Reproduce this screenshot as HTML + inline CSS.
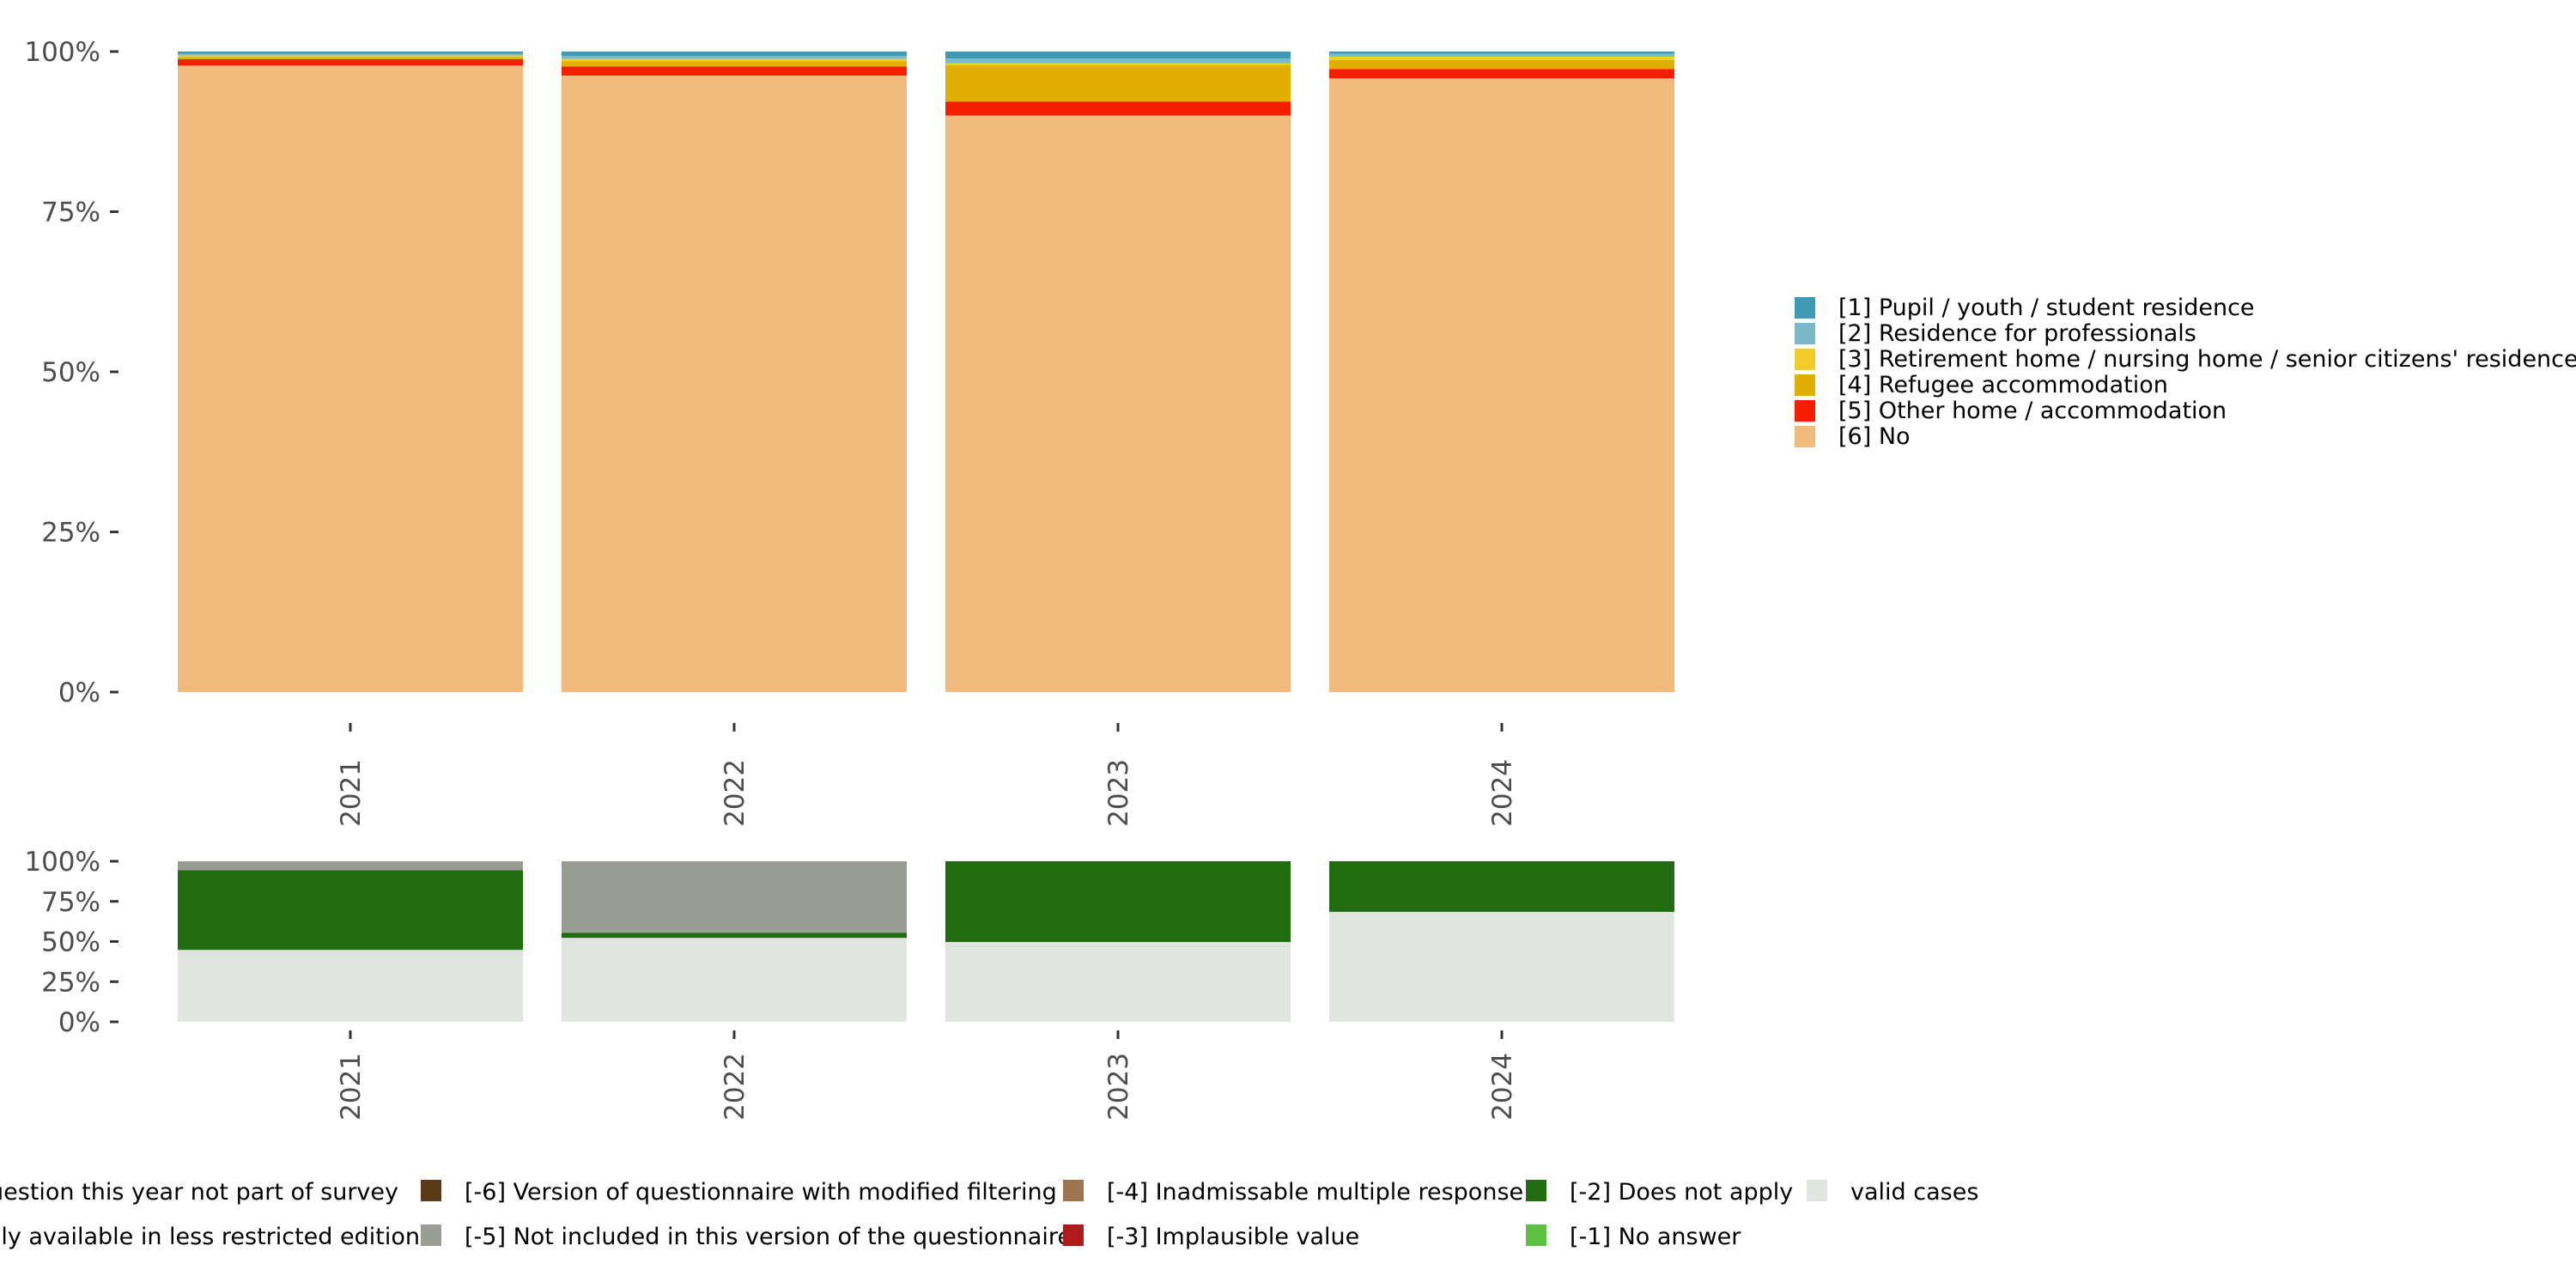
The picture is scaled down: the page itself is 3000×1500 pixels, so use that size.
<!DOCTYPE html>
<html><head><meta charset="utf-8"><style>
html,body{margin:0;padding:0;background:#fff;}
svg{display:block;font-family:"DejaVu Sans","Liberation Sans",sans-serif;}
</style></head><body>
<svg id="chart" width="3000" height="1500" viewBox="0 0 3000 1500"></svg>
<script>
const years = ["2021","2022","2023","2024"];
const topCats = ["[1] Pupil / youth / student residence","[2] Residence for professionals","[3] Retirement home / nursing home / senior citizens' residence","[4] Refugee accommodation","[5] Other home / accommodation","[6] No"];
const topColors = ["#3f9ab4","#7bb8c8","#f0cd2a","#e0af00","#f51f00","#f1bb7d"];
// values per year, order [1]..[6]
const top2021 = [0.35,0.25,0.25,0.35,1.0,97.8];
const top2022 = [0.7,0.45,0.35,0.85,1.4,96.25];
const top2023 = [1.1,0.75,0.25,5.7,2.2,90.0];
const top2024 = [0.35,0.45,0.5,1.45,1.45,95.8];
const topValues = [top2021,top2022,top2023,top2024];
// bottom panel: valid, [-2], [-5]
const botCats = ["valid cases","[-2] Does not apply","[-5] Not included in this version of the questionnaire"];
const botColors = ["#e1e5e0","#216c10","#9a9d96"];
const bot2021 = [44.8,49.7,5.5];
const bot2022 = [52.3,3.2,44.5];
const bot2023 = [49.7,50.3,0];
const bot2024 = [68.5,31.5,0];
const botValues = [bot2021,bot2022,bot2023,bot2024];
const yTicks = [0,25,50,75,100];
const yTickLabels = ["0%","25%","50%","75%","100%"];
const bottomLegend = [
 {t:"[-7] Question this year not part of survey",c:null,x:null,y:1387,end:464},
 {t:"[-8] Only available in less restricted edition",c:null,x:null,y:1439,end:489},
 {t:"[-6] Version of questionnaire with modified filtering",c:"#5a3a1a",x:490,y:1387},
 {t:"[-5] Not included in this version of the questionnaire",c:"#9a9d96",x:490,y:1439},
 {t:"[-4] Inadmissable multiple response",c:"#9b7650",x:1238,y:1387},
 {t:"[-3] Implausible value",c:"#b01a1a",x:1238,y:1439},
 {t:"[-2] Does not apply",c:"#216c10",x:1777,y:1387},
 {t:"[-1] No answer",c:"#5cc040",x:1777,y:1439},
 {t:"valid cases",c:"#e1e5e0",x:2104,y:1387}
];

const svg = document.getElementById('chart');
const NS = "http://www.w3.org/2000/svg";
function mk(tag, attrs, parent){const e=document.createElementNS(NS,tag);for(const k in attrs)e.setAttribute(k,attrs[k]);(parent||svg).appendChild(e);return e;}
const barLeft = [207,654,1101,1548], barW = 402;
const xCenter = i => barLeft[i] + barW/2;

function panel(name, values, colors, y0, y1, xTickY, xLabY, reverse){
  const yS = v => y1 - (v/100)*(y1-y0);
  const g = mk('g',{});
  
  
  values.forEach((vals,i)=>{
    let cum = 0;
    const order = vals.map((v,j)=>j);
    if(reverse) order.reverse();
    order.forEach(j=>{
      const v = vals[j];
      if(v<=0) return;
      const r = mk('rect',{x:barLeft[i],y:yS(cum+v),width:barW,height:yS(cum)-yS(cum+v),fill:colors[j]},g);
      
      
      cum += v;
    });
  });
  yTicks.forEach((t,k)=>{
    const l = mk('line',{x1:128,x2:138,y1:yS(t),y2:yS(t),stroke:"#333",'stroke-width':3},g);
    
    
    const tx = mk('text',{x:117,y:yS(t)+11,'text-anchor':'end','font-size':31,fill:"#4d4d4d"},g);
    tx.textContent = yTickLabels[k];
    
    
  });
  years.forEach((yr,i)=>{
    const cx = xCenter(i);
    const l = mk('line',{x1:cx,x2:cx,y1:xTickY,y2:xTickY+10,stroke:"#333",'stroke-width':3},g);
    
    
    const tx = mk('text',{x:0,y:0,'text-anchor':'end','font-size':31,fill:"#4d4d4d",transform:`translate(${cx+11},${xLabY}) rotate(-90)`},g);
    tx.textContent = yr;
    
    
  });
}
panel('top-panel', topValues, topColors, 60, 806, 842, 884, true);
panel('bottom-panel', botValues, botColors, 1003, 1190, 1200, 1226, false);

const lg = mk('g',{});


topCats.forEach((c,j)=>{
  const y = 346 + j*30;
  const r = mk('rect',{x:2090,y:y,width:24,height:25,fill:topColors[j]},lg);
  
  
  const t = mk('text',{x:2141,y:y+21,'font-size':27,fill:"#000"},lg);
  t.textContent = c;
  
  
});

const bl = mk('g',{});


bottomLegend.forEach(it=>{
  if(it.c){
    const r = mk('rect',{x:it.x,y:it.y-13,width:24,height:25,fill:it.c},bl);
    
    
  }
  const t = it.c ? mk('text',{x:it.x+51,y:it.y+10,'font-size':27,fill:"#000"},bl)
                 : mk('text',{x:it.end,y:it.y+10,'text-anchor':'end','font-size':27,fill:"#000"},bl);
  t.textContent = it.t;
  
  
});
</script>
</body></html>
